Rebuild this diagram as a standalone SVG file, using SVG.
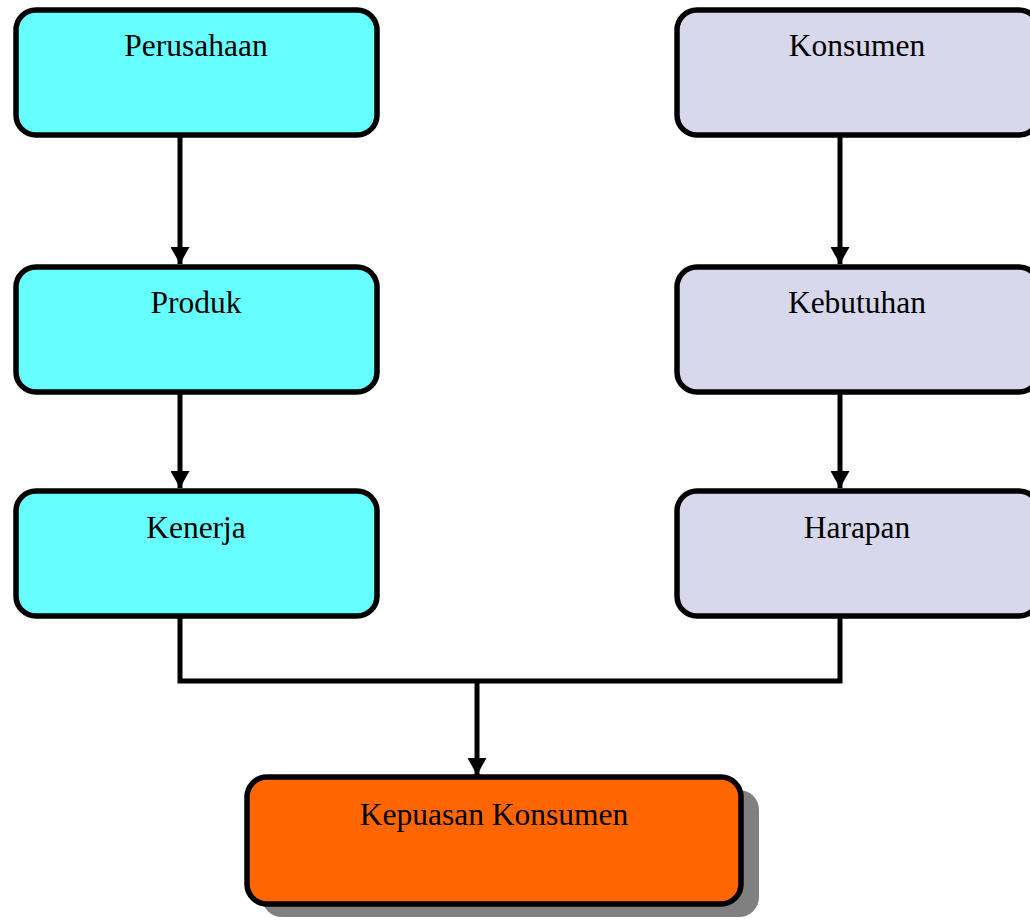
<svg xmlns="http://www.w3.org/2000/svg" width="1030" height="920" viewBox="0 0 1030 920">
<style>
.box{stroke:#000;stroke-width:5.5}
.left{fill:#66ffff}
.right{fill:#d8d8ec}
.final{fill:#ff6600}
.lbl{font-family:"Liberation Serif","Times New Roman",serif;font-size:31.5px;fill:#000;text-anchor:middle}
.con{stroke:#000;stroke-width:5;fill:none}
</style>
<defs>
<marker id="ah" markerUnits="userSpaceOnUse" markerWidth="17" markerHeight="19" refX="17" refY="9.5" orient="auto" viewBox="0 0 17 19">
<path d="M0,0 L17,9.5 L0,19 Z" fill="#000"/>
</marker>
</defs>
<rect width="1030" height="920" fill="#fff"/>
<g id="connectors">
<line class="con" x1="180" y1="137" x2="180" y2="264" marker-end="url(#ah)"/>
<line class="con" x1="180" y1="393" x2="180" y2="488" marker-end="url(#ah)"/>
<line class="con" x1="840" y1="137" x2="840" y2="264" marker-end="url(#ah)"/>
<line class="con" x1="840" y1="393" x2="840" y2="488" marker-end="url(#ah)"/>
<polyline class="con" points="180,617 180,681 840,681 840,617"/>
<line class="con" x1="477" y1="681" x2="477" y2="775" marker-end="url(#ah)"/>
</g>
<g id="perusahaan">
<rect class="box left" x="16" y="10" width="361" height="125" rx="20"/>
<text class="lbl" x="196" y="56">Perusahaan</text>
</g>
<g id="produk">
<rect class="box left" x="16" y="267" width="361" height="125" rx="20"/>
<text class="lbl" x="196" y="313">Produk</text>
</g>
<g id="kenerja">
<rect class="box left" x="16" y="491" width="361" height="125" rx="20"/>
<text class="lbl" x="196" y="538">Kenerja</text>
</g>
<g id="konsumen">
<rect class="box right" x="677" y="10" width="362" height="125" rx="20"/>
<text class="lbl" x="857" y="56">Konsumen</text>
</g>
<g id="kebutuhan">
<rect class="box right" x="677" y="267" width="362" height="125" rx="20"/>
<text class="lbl" x="857" y="313">Kebutuhan</text>
</g>
<g id="harapan">
<rect class="box right" x="677" y="491" width="362" height="125" rx="20"/>
<text class="lbl" x="857" y="538">Harapan</text>
</g>
<g id="kepuasan">
<rect x="262" y="790" width="497" height="127" rx="20" fill="#808080"/>
<rect class="box final" x="247" y="777" width="494" height="127" rx="20"/>
<text class="lbl" x="494" y="825">Kepuasan Konsumen</text>
</g>
</svg>
